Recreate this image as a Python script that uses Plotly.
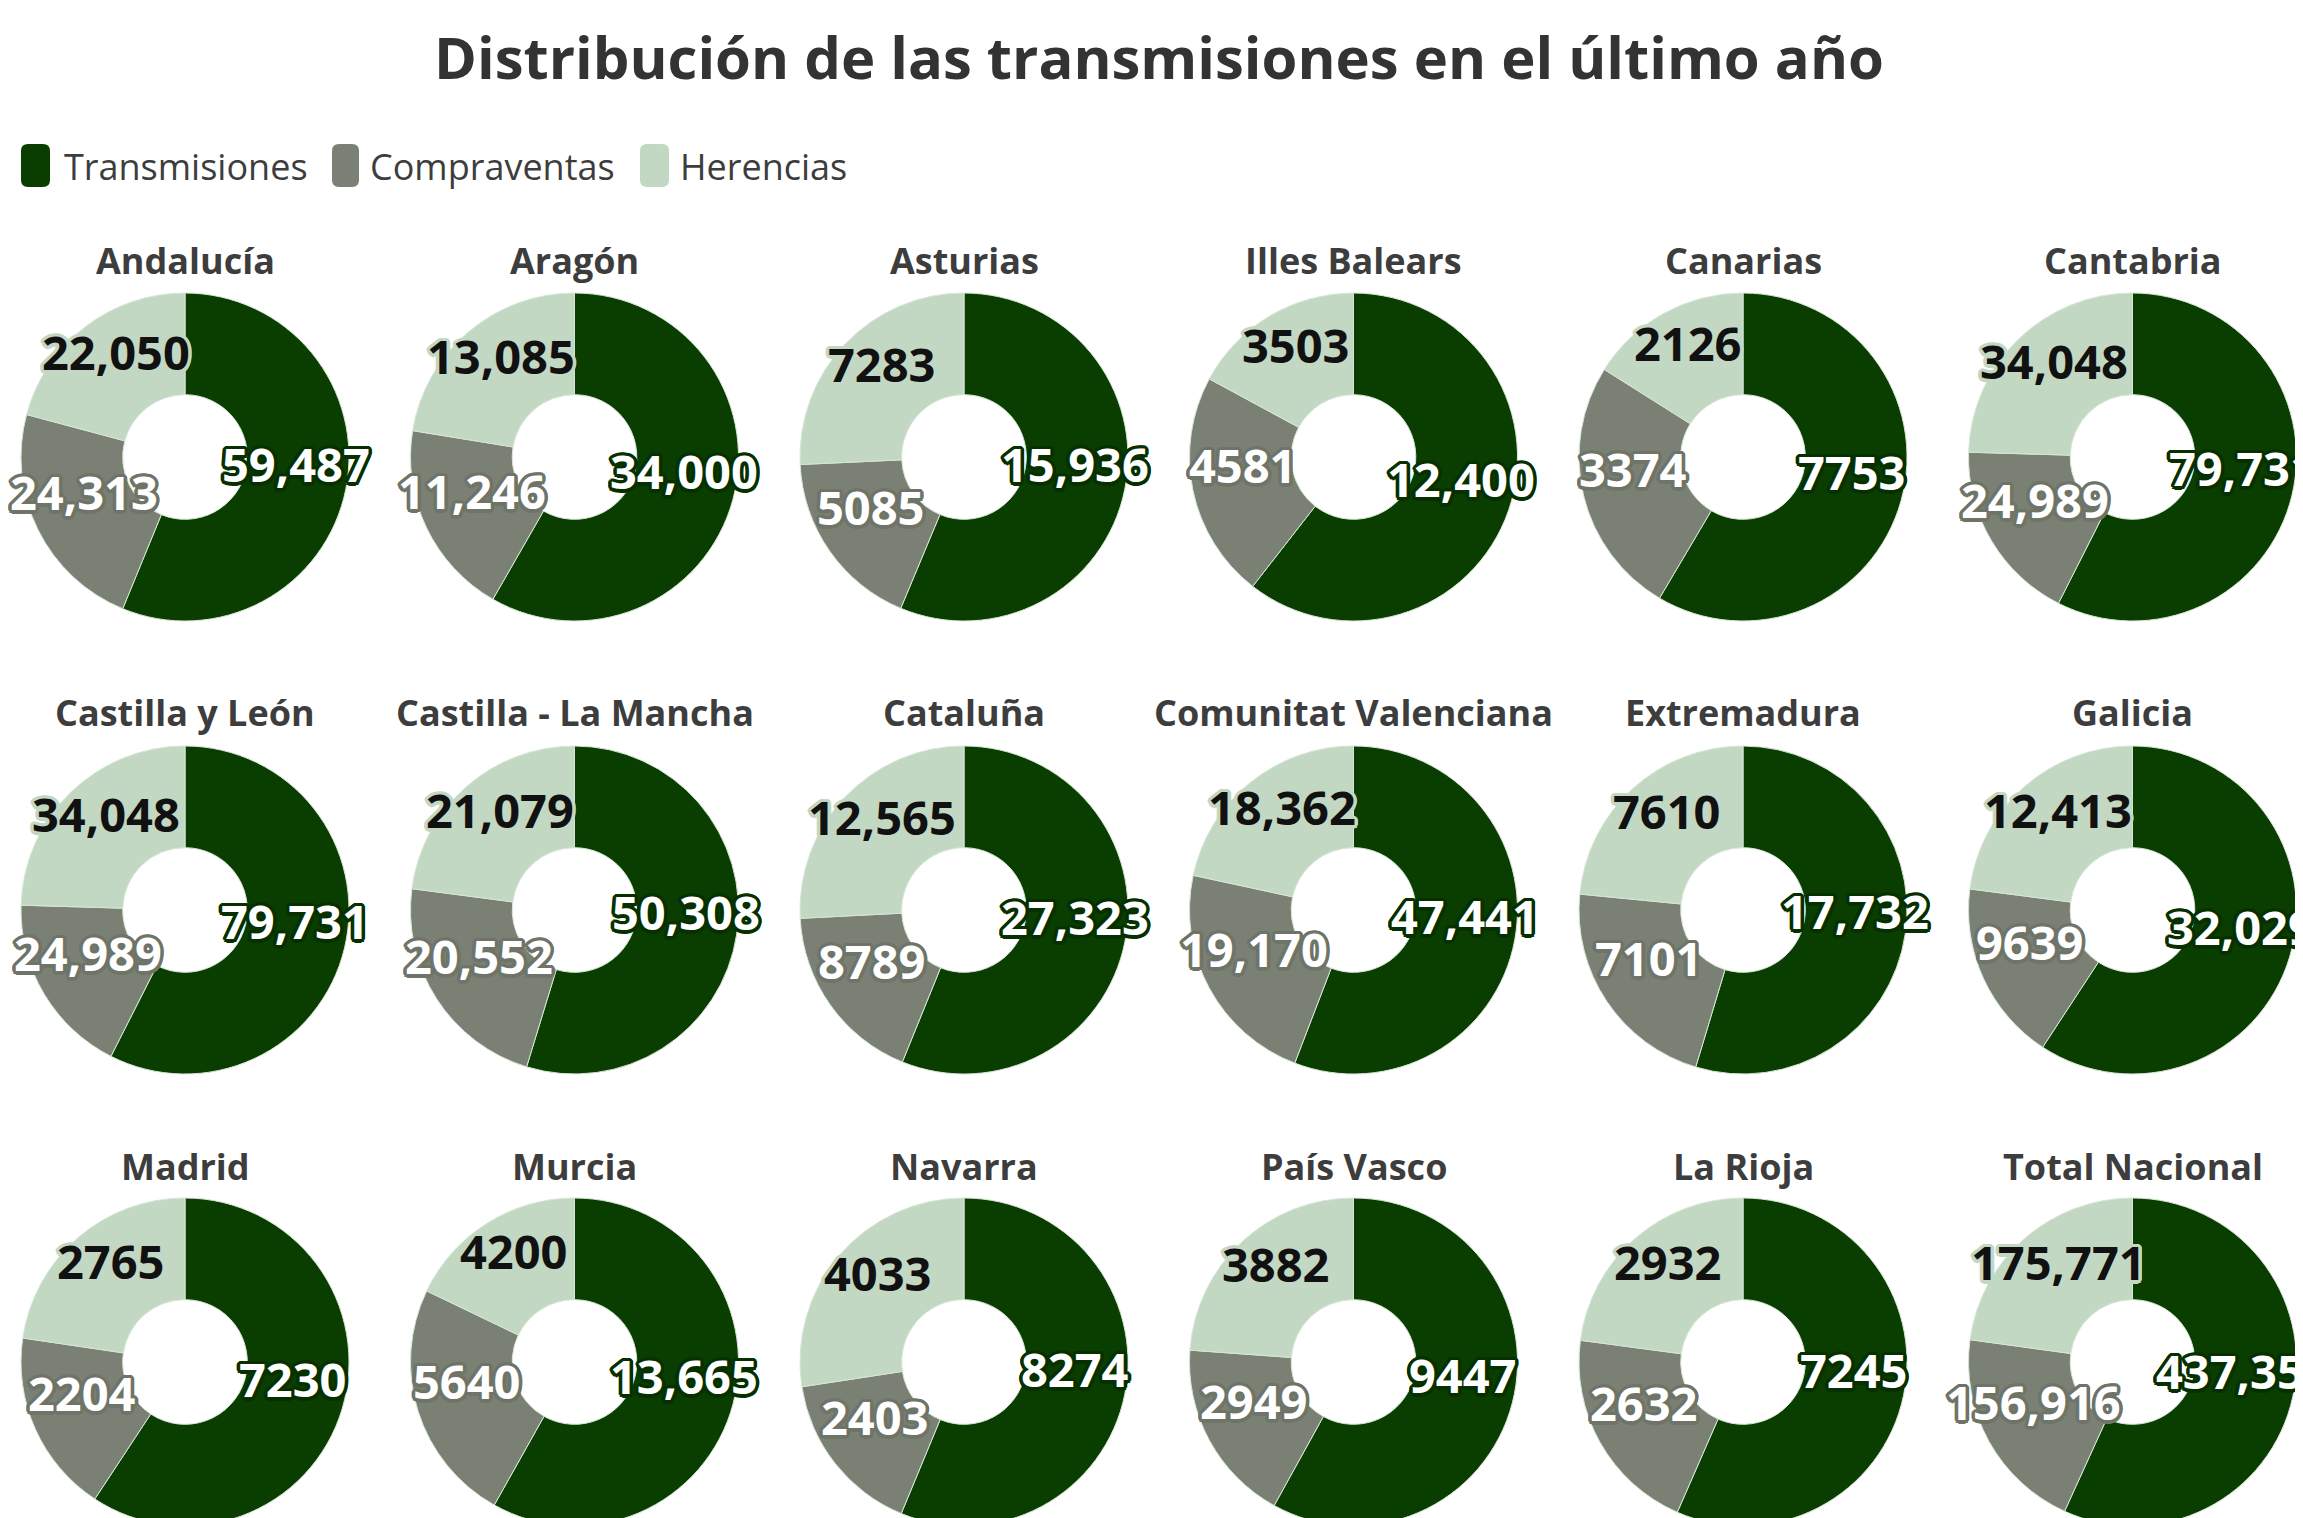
import math
import plotly.graph_objects as go

# datos por comunidad
regions = [
    "Andalucía", "Aragón", "Asturias", "Illes Balears", "Canarias", "Cantabria",
    "Castilla y León", "Castilla - La Mancha", "Cataluña", "Comunitat Valenciana", "Extremadura", "Galicia",
    "Madrid", "Murcia", "Navarra", "País Vasco", "La Rioja", "Total Nacional",
]
transmisiones = [59487, 34000, 15936, 12400, 7753, 79731,
                 79731, 50308, 27323, 47441, 17732, 32029,
                 7230, 13665, 8274, 9447, 7245, 437352]
compraventas = [24313, 11246, 5085, 4581, 3374, 24989,
                24989, 20552, 8789, 19170, 7101, 9639,
                2204, 5640, 2403, 2949, 2632, 156916]
herencias = [22050, 13085, 7283, 3503, 2126, 34048,
             34048, 21079, 12565, 18362, 7610, 12413,
             2765, 4200, 4033, 3882, 2932, 175771]
labels = ["Transmisiones", "Compraventas", "Herencias"]

colors = ["#0a3d00", "#7b8074", "#c3d8c3"]
outline_colors = ["#073000", "#6f7468", "#c3d8c3"]
text_colors = ["white", "white", "#111111"]
FONT = "Open Sans"

W, H = 2303, 1518
OFF = 8  # margen del body de la página
R = 164
HOLE = 0.38
col_centers = [185 + 389.5 * i for i in range(6)]
row_centers = [457, 910, 1362]
title_rows = [261, 712, 1166]


def px(x, y):
    return (x - OFF) / W, 1 - (y - OFF) / H


def outline(c, w=3.5):
    parts = []
    for k in range(16):
        a = 2 * math.pi * k / 16
        parts.append(f"{w * math.cos(a):.1f}px {w * math.sin(a):.1f}px 0 {c}")
    return ", ".join(parts)


def fmt(v):
    return f"{v:,}" if v >= 10000 else str(v)


def rounded_rect(x0, y0, x1, y1, r):
    def p(x, y):
        a, b = px(x, y)
        return f"{a:.5f},{b:.5f}"
    return (f"M {p(x0 + r, y0)} L {p(x1 - r, y0)} Q {p(x1, y0)} {p(x1, y0 + r)} "
            f"L {p(x1, y1 - r)} Q {p(x1, y1)} {p(x1 - r, y1)} L {p(x0 + r, y1)} "
            f"Q {p(x0, y1)} {p(x0, y1 - r)} L {p(x0, y0 + r)} Q {p(x0, y0)} {p(x0 + r, y0)} Z")


fig = go.Figure()
annotations = []
for i, name in enumerate(regions):
    r, c = divmod(i, 6)
    cx, cy = col_centers[c], row_centers[r]
    vals = [transmisiones[i], compraventas[i], herencias[i]]
    x0, y1 = px(cx - R, cy - R)
    x1, y0 = px(cx + R, cy + R)
    fig.add_trace(go.Pie(
        labels=labels,
        values=vals,
        textinfo="none",
        hole=HOLE,
        sort=False,
        direction="clockwise",
        rotation=0,
        marker=dict(colors=colors, line=dict(color="#d6e6d6", width=1)),
        domain=dict(x=[max(0, x0), min(1, x1)], y=[max(0, y0), min(1, y1)]),
        showlegend=False,
        hoverinfo="label+value",
    ))
    tx, ty = px(cx, title_rows[r])
    annotations.append(dict(
        text=f"<b>{name}</b>", x=tx, y=ty,
        xref="paper", yref="paper", showarrow=False,
        xanchor="center", yanchor="middle",
        font=dict(family=FONT, size=36, color="#3d3d3d"),
    ))
    # etiquetas en el centro de cada sector
    total = sum(vals)
    cum = 0
    rm = R * (1 + HOLE) / 2
    for k, v in enumerate(vals):
        ang = 2 * math.pi * (cum + v / 2) / total
        cum += v
        lx, ly = px(cx + rm * math.sin(ang), cy - rm * math.cos(ang))
        annotations.append(dict(
            text=f"<b>{fmt(v)}</b>", x=lx, y=ly,
            xref="paper", yref="paper", showarrow=False,
            xanchor="center", yanchor="middle", yshift=15,
            font=dict(family=FONT, size=47, color=text_colors[k],
                      shadow=outline(outline_colors[k])),
        ))

# leyenda
legend_x = [(21, 50, 62), (332, 359, 368), (640, 669, 678)]
shapes = []
for (sx0, sx1, lx), lab, col in zip(legend_x, labels, colors):
    shapes.append(dict(type="path", path=rounded_rect(sx0, 144, sx1, 187, 7),
                       xref="paper", yref="paper", fillcolor=col, line=dict(width=0)))
    ax, ay = px(lx, 166)
    annotations.append(dict(
        text=lab, x=ax, y=ay, xref="paper", yref="paper",
        showarrow=False, xanchor="left", yanchor="middle",
        font=dict(family=FONT, size=36, color="#3d3d3d"),
    ))

tx, ty = px(1159, 59)
fig.update_layout(
    width=W, height=H,
    margin=dict(l=0, r=0, t=0, b=0),
    paper_bgcolor="white",
    title=dict(text="<b>Distribución de las transmisiones en el último año</b>",
               x=tx, xanchor="center", y=ty, yanchor="middle",
               font=dict(family=FONT, size=58, color="#333333")),
    showlegend=False,
    annotations=annotations,
    shapes=shapes,
)

fig.write_html("out.html")
